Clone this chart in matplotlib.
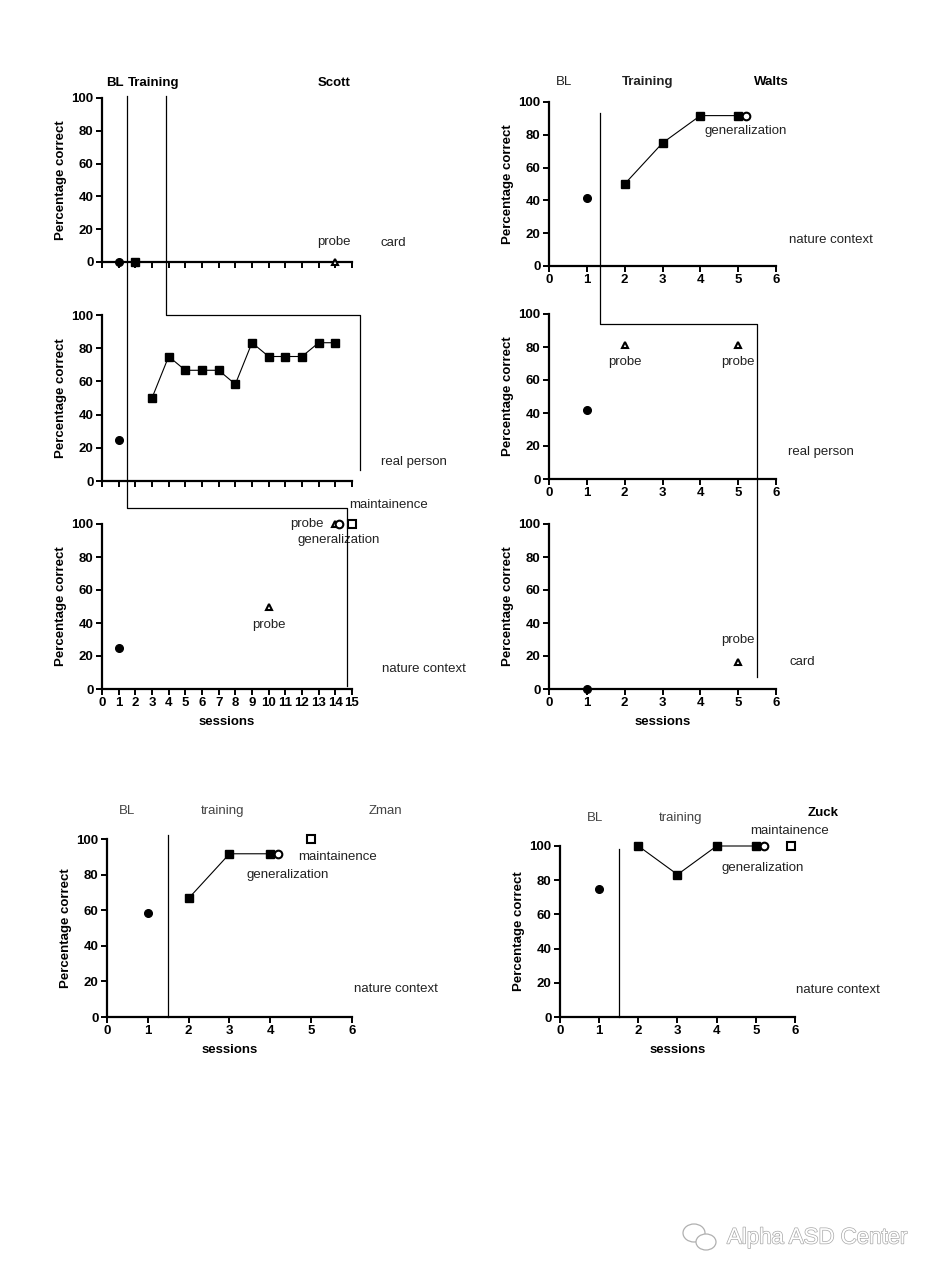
import matplotlib
matplotlib.use('Agg')
import matplotlib.pyplot as plt
from matplotlib.lines import Line2D
from matplotlib.patches import Ellipse
import matplotlib.patheffects as pe

plt.rcParams['font.family'] = ['Liberation Sans', 'DejaVu Sans']

W, H = 945, 1280

# ---- data ----
# Scott (sessions 0-15)
scott_card_bl = ([1], [0])
scott_card_train = ([2], [0])
scott_card_probe = ([14], [0])
scott_person_bl = ([1], [25])
scott_person_train_x = [3, 4, 5, 6, 7, 8, 9, 10, 11, 12, 13, 14]
scott_person_train_y = [50, 75, 66.7, 66.7, 66.7, 58.3, 83.3, 75, 75, 75, 83.3, 83.3]
scott_nature_bl = ([1], [25])
scott_nature_probe = ([10, 14], [50, 100])
scott_nature_gen = ([14.25], [100])
scott_nature_maint = ([15], [100])

# Walts (sessions 0-6)
walts_nature_bl = ([1], [41.7])
walts_nature_train_x = [2, 3, 4, 5]
walts_nature_train_y = [50, 75, 91.7, 91.7]
walts_nature_gen = ([5.2], [91.7])
walts_person_bl = ([1], [41.7])
walts_person_probe = ([2, 5], [81, 81])
walts_card_bl = ([1], [0])
walts_card_probe = ([5], [16.3])

# Zman
zman_bl = ([1], [58.3])
zman_train_x = [2, 3, 4]
zman_train_y = [66.7, 91.7, 91.7]
zman_gen = ([4.2], [91.7])
zman_maint = ([5], [100])

# Zuck
zuck_bl = ([1], [75])
zuck_train_x = [2, 3, 4, 5]
zuck_train_y = [100, 83.3, 100, 100]
zuck_gen = ([5.2], [100])
zuck_maint = ([5.9], [100])

fig = plt.figure(figsize=(W / 100, H / 100), dpi=100)
fig.patch.set_facecolor('white')


def make_ax(x0, y0, x1, y1, xmax, xlabels=True, sessions=False):
    ax = fig.add_axes([x0 / W, 1 - y1 / H, (x1 - x0) / W, (y1 - y0) / H])
    ax.set_xlim(0, xmax)
    ax.set_ylim(0, 100)
    ax.patch.set_alpha(0)
    for s in ['top', 'right']:
        ax.spines[s].set_visible(False)
    for s in ['left', 'bottom']:
        ax.spines[s].set_linewidth(1.6)
    ax.set_yticks([0, 20, 40, 60, 80, 100])
    ax.set_xticks(range(0, xmax + 1))
    ax.tick_params(direction='out', length=4, width=1.4, pad=2, labelsize=9.5)
    for lab in ax.get_xticklabels() + ax.get_yticklabels():
        lab.set_fontweight('bold')
    if not xlabels:
        ax.set_xticklabels([])
    ax.set_ylabel('Percentage correct', fontweight='bold', fontsize=9.5, labelpad=3)
    if sessions:
        ax.set_xlabel('sessions', fontweight='bold', fontsize=9.5, labelpad=5)
    return ax


def filled_circle(ax, pts):
    ax.plot(pts[0], pts[1], 'o', color='black', ms=5.5, clip_on=False, zorder=5)


def open_circle(ax, pts):
    ax.plot(pts[0], pts[1], 'o', mfc='white', mec='black', mew=1.5, ms=5.5, clip_on=False, zorder=5)


def open_square(ax, pts):
    ax.plot(pts[0], pts[1], 's', mfc='white', mec='black', mew=1.5, ms=5.5, clip_on=False, zorder=5)


def open_tri(ax, pts):
    ax.plot(pts[0], pts[1], '^', mfc='white', mec='black', mew=1.5, ms=5, clip_on=False, zorder=5)


def squares(ax, x, y):
    ax.plot(x, y, '-', color='black', lw=0.8, marker='s', ms=5.8, clip_on=False, zorder=4)


def phase_line(pts):
    xs, ys = [], []
    for ax, x, y in pts:
        fx, fy = fig.transFigure.inverted().transform(ax.transData.transform((x, y)))
        xs.append(fx)
        ys.append(fy)
    fig.add_artist(Line2D(xs, ys, transform=fig.transFigure, color='black', lw=0.9, zorder=3))


def txt(ax, x, y, s, weight='normal', color='#222222', size=9.5, ha='center'):
    ax.text(x, y, s, ha=ha, va='center', fontsize=size, fontweight=weight, color=color, clip_on=False)


# ---- Scott ----
s1 = make_ax(102, 98, 352, 262, 15, xlabels=False)
s2 = make_ax(102, 315, 352, 481, 15, xlabels=False)
s3 = make_ax(102, 524, 352, 689, 15, sessions=True)

filled_circle(s1, scott_card_bl)
s1.plot(*scott_card_train, 's', color='black', ms=5.5, clip_on=False, zorder=5)
open_tri(s1, scott_card_probe)
txt(s1, 0.8, 109, 'BL', weight='bold', color='black')
txt(s1, 3.1, 109, 'Training', weight='bold', color='black')
txt(s1, 13.9, 109, 'Scott', weight='bold', color='black')
txt(s1, 13.9, 12, 'probe')
txt(s1, 17.5, 11.5, 'card')

filled_circle(s2, scott_person_bl)
squares(s2, scott_person_train_x, scott_person_train_y)
txt(s2, 18.7, 11.5, 'real person')

filled_circle(s3, scott_nature_bl)
open_tri(s3, scott_nature_probe)
open_circle(s3, scott_nature_gen)
open_square(s3, scott_nature_maint)
txt(s3, 10, 38.5, 'probe')
txt(s3, 13.3, 100, 'probe', ha='right')
txt(s3, 14.2, 90.5, 'generalization')
txt(s3, 17.2, 111.5, 'maintainence')
txt(s3, 19.3, 12, 'nature context')

phase_line([(s1, 1.5, 101), (s3, 1.5, 109.5), (s3, 14.7, 109.5), (s3, 14.7, 2)])
phase_line([(s1, 3.85, 101), (s2, 3.85, 100), (s2, 15.5, 100), (s2, 15.5, 6.5)])

# ---- Walts ----
w1 = make_ax(549, 102, 776, 266, 6)
w2 = make_ax(549, 314, 776, 479, 6)
w3 = make_ax(549, 524, 776, 689, 6, sessions=True)

filled_circle(w1, walts_nature_bl)
squares(w1, walts_nature_train_x, walts_nature_train_y)
open_circle(w1, walts_nature_gen)
txt(w1, 0.4, 112, 'BL')
txt(w1, 2.6, 112, 'Training', weight='bold')
txt(w1, 5.87, 112, 'Walts', weight='bold', color='black')
txt(w1, 5.2, 82.5, 'generalization')
txt(w1, 7.45, 16, 'nature context')

filled_circle(w2, walts_person_bl)
open_tri(w2, walts_person_probe)
for x in walts_person_probe[0]:
    txt(w2, x, 71, 'probe')
txt(w2, 7.2, 16.5, 'real person')

filled_circle(w3, walts_card_bl)
open_tri(w3, walts_card_probe)
txt(w3, 5, 29.5, 'probe')
txt(w3, 6.7, 16.5, 'card')

phase_line([(w1, 1.35, 93.5), (w2, 1.35, 94), (w2, 5.5, 94), (w3, 5.5, 7)])

# ---- Zman ----
z1 = make_ax(107, 839, 352, 1017, 6, sessions=True)
filled_circle(z1, zman_bl)
squares(z1, zman_train_x, zman_train_y)
open_circle(z1, zman_gen)
open_square(z1, zman_maint)
txt(z1, 0.5, 115.5, 'BL', color='#444444')
txt(z1, 2.82, 115.5, 'training', color='#444444')
txt(z1, 6.83, 115.5, 'Zman', color='#444444')
txt(z1, 5.65, 90, 'maintainence')
txt(z1, 4.43, 80, 'generalization')
txt(z1, 7.07, 16, 'nature context')
phase_line([(z1, 1.5, 0), (z1, 1.5, 102)])

# ---- Zuck ----
k1 = make_ax(560, 846, 795, 1017, 6, sessions=True)
filled_circle(k1, zuck_bl)
squares(k1, zuck_train_x, zuck_train_y)
open_circle(k1, zuck_gen)
open_square(k1, zuck_maint)
txt(k1, 0.89, 116.5, 'BL', color='#444444')
txt(k1, 3.09, 116.5, 'training', color='#444444')
txt(k1, 6.72, 119.5, 'Zuck', weight='bold', color='black')
txt(k1, 5.87, 109, 'maintainence')
txt(k1, 5.18, 87, 'generalization')
txt(k1, 7.1, 16, 'nature context')
phase_line([(k1, 1.5, 0), (k1, 1.5, 98)])

# ---- watermark ----
fig.text(727 / W, 1 - 1238 / H, 'Alpha ASD Center', fontsize=16, color='white',
         ha='left', va='center',
         path_effects=[pe.withStroke(linewidth=1.0, foreground='#a8a8a8')])
fig.add_artist(Ellipse((694 / W, 1 - 1233 / H), 22 / W, 18 / H, transform=fig.transFigure,
                       fill=False, ec='#b0b0b0', lw=0.9))
fig.add_artist(Ellipse((706 / W, 1 - 1242 / H), 20 / W, 16 / H, transform=fig.transFigure,
                       fc='white', ec='#b0b0b0', lw=0.9))

fig.savefig('out.png', dpi=100)
